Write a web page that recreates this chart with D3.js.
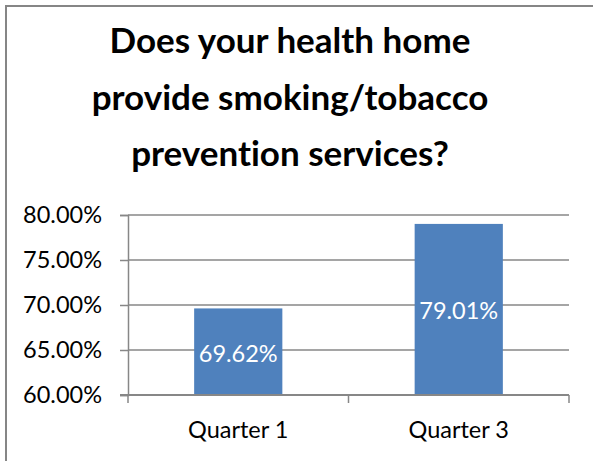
<!DOCTYPE html>
<html>
<head>
<meta charset="utf-8">
<script src="https://cdn.jsdelivr.net/npm/d3@7"></script>
<style>
  body { margin: 0; background: #fff; }
  svg { display: block; }
  text { font-variant-ligatures: none; }
</style>
</head>
<body>
<div id="chart"></div>
<script>
// chart data
const categories = ['Quarter 1', 'Quarter 3'];
const values = [69.62, 79.01];
const yTicks = [60, 65, 70, 75, 80];
const titleLines = ['Does your health home', 'provide smoking/tobacco', 'prevention services?'];

const width = 593, height = 461;
const margin = { top: 215, right: 24, bottom: 66, left: 128 };
const font = 'Lato, "Open Sans", sans-serif';

const svg = d3.select('#chart')
  .append('svg')
  .attr('width', width)
  .attr('height', height);

// outer frame (right and bottom edges fall off the page)
svg.append('rect')
  .attr('x', 6).attr('y', 6)
  .attr('width', 700).attr('height', 600)
  .attr('fill', 'none')
  .attr('stroke', '#868686')
  .attr('stroke-width', 2);

// title
svg.append('text')
  .attr('text-anchor', 'middle')
  .attr('font-family', font)
  .attr('font-weight', 'bold')
  .attr('font-size', 35)
  .attr('fill', '#000')
  .selectAll('tspan')
  .data(titleLines)
  .enter()
  .append('tspan')
  .attr('x', 290)
  .attr('y', (d, i) => 53 + i * 56.5)
  .text(d => d);

const x = d3.scaleBand()
  .domain(categories)
  .range([margin.left, width - margin.right])
  .paddingInner(0.6)
  .paddingOuter(0.3);

const y = d3.scaleLinear()
  .domain([60, 80])
  .range([height - margin.bottom, margin.top]);

// gridlines
svg.append('g')
  .selectAll('line')
  .data(yTicks.slice(1))
  .enter()
  .append('line')
  .attr('x1', margin.left)
  .attr('x2', width - margin.right)
  .attr('y1', d => y(d))
  .attr('y2', d => y(d))
  .attr('stroke', '#878787')
  .attr('stroke-width', 1.5);

// y axis
const yAxis = svg.append('g')
  .attr('transform', `translate(${margin.left},0)`)
  .call(d3.axisLeft(y).tickValues(yTicks).tickSize(8).tickPadding(18)
    .tickFormat(d => d.toFixed(2) + '%'));
yAxis.select('.domain').attr('stroke', '#878787').attr('stroke-width', 1.5);
yAxis.selectAll('.tick line').attr('stroke', '#878787').attr('stroke-width', 1.5);
yAxis.selectAll('.tick text')
  .attr('font-family', font)
  .attr('font-size', 23.5)
  .attr('fill', '#000');

// bars
svg.append('g')
  .selectAll('rect')
  .data(values)
  .enter()
  .append('rect')
  .attr('x', (d, i) => x(categories[i]))
  .attr('y', d => y(d))
  .attr('width', x.bandwidth())
  .attr('height', d => y(60) - y(d))
  .attr('fill', '#4F81BD');

// value labels
svg.append('g')
  .selectAll('text')
  .data(values)
  .enter()
  .append('text')
  .attr('x', (d, i) => x(categories[i]) + x.bandwidth() / 2)
  .attr('y', d => (y(d) + y(60)) / 2)
  .attr('dy', '0.42em')
  .attr('text-anchor', 'middle')
  .attr('font-family', font)
  .attr('font-size', 23.5)
  .attr('fill', '#fff')
  .text(d => d.toFixed(2) + '%');

// x axis
const xAxis = svg.append('g')
  .attr('transform', `translate(0,${y(60)})`)
  .call(d3.axisBottom(x).tickSize(0).tickPadding(26));
xAxis.select('.domain').remove();
xAxis.selectAll('.tick text')
  .attr('font-family', font)
  .attr('font-size', 23.5)
  .attr('fill', '#000');

// baseline with category separator ticks
svg.append('line')
  .attr('x1', margin.left - 8).attr('x2', width - margin.right)
  .attr('y1', y(60)).attr('y2', y(60))
  .attr('stroke', '#878787').attr('stroke-width', 2);
svg.append('g')
  .selectAll('line')
  .data([margin.left, x(categories[0]) + x.step() * (1 - x.paddingInner() / 2), width - margin.right])
  .enter()
  .append('line')
  .attr('x1', d => d).attr('x2', d => d)
  .attr('y1', y(60)).attr('y2', y(60) + 8)
  .attr('stroke', '#878787').attr('stroke-width', 1.5);
</script>
</body>
</html>
